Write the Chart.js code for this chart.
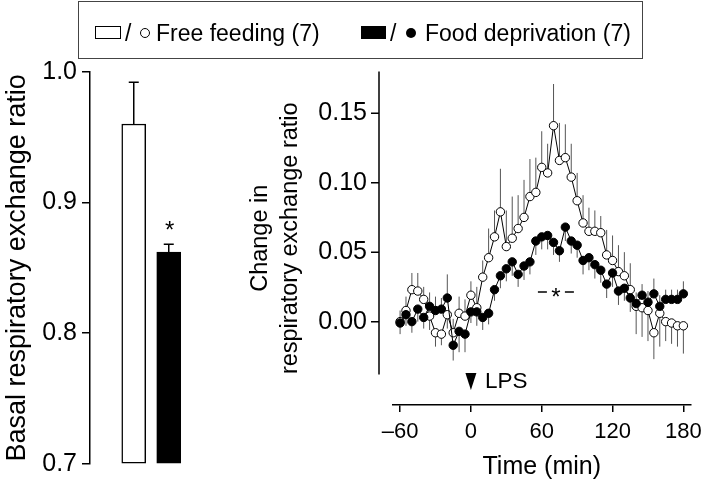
<!DOCTYPE html>
<html>
<head>
<meta charset="utf-8">
<script src="https://cdn.jsdelivr.net/npm/chart.js@4.4.1/dist/chart.umd.min.js"></script>
<style>
  html, body { margin: 0; padding: 0; background: #fff; }
  body { width: 709px; height: 484px; position: relative; overflow: hidden; font-family: "Liberation Sans", Arial, sans-serif; }
  canvas { position: absolute; top: 0; }
  #basal { left: 0; }
  #change { left: 230px; }
  .box { position: absolute; left: 78px; top: 1px; width: 565px; height: 58px; border: 1.5px solid #444; box-sizing: border-box; }
  .ico { position: absolute; box-sizing: border-box; }
  .txt { position: absolute; top: 20px; font-size: 23px; line-height: 26px; white-space: nowrap; color: #000; }
</style>
</head>
<body>
<canvas id="basal" width="200" height="484"></canvas>
<canvas id="change" width="479" height="484"></canvas>

<div class="box"></div>
<div class="ico" style="left:95px;top:26px;width:26px;height:13px;border:1.5px solid #000;"></div>
<div class="txt" style="left:125px;">/</div>
<div class="ico" style="left:140px;top:28px;width:10px;height:10px;border:1.5px solid #000;border-radius:50%;"></div>
<div class="txt" style="left:156px;">Free feeding (7)</div>
<div class="ico" style="left:361px;top:26px;width:25px;height:13px;background:#000;"></div>
<div class="txt" style="left:390px;">/</div>
<div class="ico" style="left:406px;top:28px;width:10px;height:10px;background:#000;border-radius:50%;"></div>
<div class="txt" style="left:425px;">Food deprivation (7)</div>

<script>
// basal RER (bar panel)
const groups = ['Free feeding', 'Food deprivation'];
const basalMean = [0.960, 0.862];
const basalSE = [0.032, 0.006];
const basalSig = ['', '*'];
const basalTicks = [0.7, 0.8, 0.9, 1.0];

// change in RER after LPS (line panel)
const timeMin = [-60, -55, -50, -45, -40, -35, -30, -25, -20, -15, -10, -5, 0, 5, 10, 15, 20, 25, 30, 35,
  40, 45, 50, 55, 60, 65, 70, 75, 80, 85, 90, 95, 100, 105, 110, 115, 120, 125, 130, 135,
  140, 145, 150, 155, 160, 165, 170, 175, 180];
const freeMean = [0.000, 0.008, 0.023, 0.022, 0.016, 0.004, -0.008, -0.009, 0.005, -0.008, 0.006, 0.004, 0.019, 0.010, 0.032, 0.046, 0.061, 0.079, 0.054, 0.060,
  0.067, 0.075, 0.090, 0.093, 0.111, 0.107, 0.141, 0.116, 0.118, 0.104, 0.087, 0.071, 0.065, 0.065, 0.064, 0.048, 0.044, 0.036, 0.033, 0.023,
  0.011, 0.010, 0.008, -0.008, 0.006, 0.000, -0.001, -0.003, -0.003];
const freeSE = [0.008, 0.010, 0.012, 0.013, 0.009, 0.010, 0.010, 0.008, 0.010, 0.010, 0.012, 0.012, 0.010, 0.015, 0.012, 0.021, 0.019, 0.031, 0.026, 0.030,
  0.024, 0.027, 0.027, 0.025, 0.026, 0.021, 0.030, 0.027, 0.024, 0.024, 0.020, 0.020, 0.017, 0.015, 0.012, 0.018, 0.018, 0.019, 0.017, 0.019,
  0.020, 0.021, 0.022, 0.019, 0.024, 0.014, 0.015, 0.015, 0.020];
const fastMean = [-0.001, 0.005, 0.000, 0.009, 0.003, 0.011, 0.008, 0.009, 0.017, -0.017, -0.007, -0.009, 0.007, 0.007, 0.003, 0.006, 0.023, 0.033, 0.038, 0.043,
  0.034, 0.040, 0.043, 0.058, 0.061, 0.062, 0.057, 0.051, 0.068, 0.058, 0.055, 0.044, 0.046, 0.041, 0.037, 0.027, 0.035, 0.022, 0.024, 0.017,
  0.013, 0.019, 0.014, 0.020, 0.011, 0.016, 0.016, 0.016, 0.020];
const fastSE = [0.008, 0.008, 0.008, 0.009, 0.008, 0.010, 0.010, 0.008, 0.017, 0.011, 0.015, 0.013, 0.008, 0.010, 0.009, 0.008, 0.008, 0.009, 0.009, 0.010,
  0.009, 0.010, 0.009, 0.010, 0.009, 0.010, 0.009, 0.008, 0.010, 0.009, 0.009, 0.010, 0.009, 0.010, 0.009, 0.010, 0.010, 0.010, 0.009, 0.010,
  0.008, 0.008, 0.008, 0.011, 0.008, 0.007, 0.007, 0.007, 0.009];
const timeTicks = [-60, 0, 60, 120, 180];
const changeTicks = [0, 0.05, 0.10, 0.15];

const FONT = "'Liberation Sans', Arial, sans-serif";
Chart.defaults.font.family = FONT;
Chart.defaults.color = '#000';

const basalMarks = {
  id: 'basalMarks',
  afterDatasetsDraw(chart) {
    const ctx = chart.ctx;
    const xs = chart.scales.x, ys = chart.scales.y;
    ctx.save();
    ctx.strokeStyle = '#000';
    ctx.lineWidth = 1.5;
    groups.forEach((g, i) => {
      const x = xs.getPixelForValue(i);
      const y0 = ys.getPixelForValue(basalMean[i]);
      const y1 = ys.getPixelForValue(basalMean[i] + basalSE[i]);
      ctx.beginPath();
      ctx.moveTo(x, y0);
      ctx.lineTo(x, y1);
      ctx.moveTo(x - 5, y1);
      ctx.lineTo(x + 5, y1);
      ctx.stroke();
      if (basalSig[i]) {
        ctx.fillStyle = '#000';
        ctx.font = '24px ' + FONT;
        ctx.textAlign = 'center';
        ctx.textBaseline = 'alphabetic';
        ctx.fillText(basalSig[i], x + 1, y1 - 6);
      }
    });
    ctx.restore();
  }
};

new Chart(document.getElementById('basal'), {
  type: 'bar',
  data: {
    datasets: [{
      data: groups.map((g, i) => ({x: i, y: basalMean[i]})),
      backgroundColor: ['#fff', '#000'],
      borderColor: '#000',
      borderWidth: 1.5,
      borderSkipped: false,
      barThickness: 24,
      base: 0.7
    }]
  },
  options: {
    responsive: false,
    animation: false,
    layout: {padding: {top: 71.7, bottom: 7.3, right: 5, left: 0}},
    plugins: {legend: {display: false}, tooltip: {enabled: false}},
    scales: {
      x: {type: 'linear', display: false, offset: false, min: -1.25, max: 1.75},
      y: {
        min: 0.7, max: 1.0,
        afterBuildTicks: s => { s.ticks = basalTicks.map(v => ({value: v})); },
        afterFit: s => { s.width = 90; },
        ticks: {font: {size: 25}, padding: 5, callback: v => v.toFixed(1)},
        grid: {drawOnChartArea: false, tickLength: 8, color: '#000', lineWidth: 1.5},
        border: {color: '#000', width: 1.5},
        title: {display: true, text: 'Basal respiratory exchange ratio', font: {size: 27}, padding: {top: 1, bottom: 0}}
      }
    }
  },
  plugins: [basalMarks]
});

const changeMarks = {
  id: 'changeMarks',
  beforeDatasetsDraw(chart) {
    const ctx = chart.ctx;
    const xs = chart.scales.x, ys = chart.scales.y;
    ctx.save();
    ctx.strokeStyle = '#555';
    ctx.lineWidth = 1;
    ctx.beginPath();
    timeMin.forEach((t, i) => {
      const x = xs.getPixelForValue(t);
      const upFree = freeMean[i] >= fastMean[i];
      const f1 = freeMean[i] + (upFree ? freeSE[i] : -freeSE[i]);
      const d1 = fastMean[i] + (upFree ? -fastSE[i] : fastSE[i]);
      ctx.moveTo(x, ys.getPixelForValue(freeMean[i]));
      ctx.lineTo(x, ys.getPixelForValue(f1));
      ctx.moveTo(x, ys.getPixelForValue(fastMean[i]));
      ctx.lineTo(x, ys.getPixelForValue(d1));
    });
    ctx.stroke();
    ctx.restore();
  },
  afterDraw(chart) {
    const ctx = chart.ctx;
    const xs = chart.scales.x, ys = chart.scales.y;
    const area = chart.chartArea;
    ctx.save();
    // detached y axis
    const ax = area.left - 14;
    ctx.strokeStyle = '#000';
    ctx.lineWidth = 1.5;
    ctx.beginPath();
    ctx.moveTo(ax, area.top);
    ctx.lineTo(ax, ys.getPixelForValue(-0.038));
    changeTicks.forEach(v => {
      const y = ys.getPixelForValue(v);
      ctx.moveTo(ax - 8, y);
      ctx.lineTo(ax, y);
    });
    ctx.stroke();

    // LPS injection marker
    const x0 = xs.getPixelForValue(0);
    const tip = area.bottom - 15;
    ctx.fillStyle = '#000';
    ctx.beginPath();
    ctx.moveTo(x0 - 5.5, tip - 17);
    ctx.lineTo(x0 + 5.5, tip - 17);
    ctx.lineTo(x0, tip);
    ctx.closePath();
    ctx.fill();
    ctx.font = '22.5px ' + FONT;
    ctx.textAlign = 'left';
    ctx.textBaseline = 'middle';
    ctx.fillText('LPS', x0 + 14, tip - 8);

    // significance between groups
    const sx = xs.getPixelForValue(72);
    const sy = ys.getPixelForValue(0.0213);
    ctx.beginPath();
    ctx.moveTo(sx - 18, sy); ctx.lineTo(sx - 9, sy);
    ctx.moveTo(sx + 9, sy); ctx.lineTo(sx + 18, sy);
    ctx.stroke();
    ctx.font = '24px ' + FONT;
    ctx.textAlign = 'center';
    ctx.textBaseline = 'alphabetic';
    ctx.fillText('*', sx, sy + 13);
    ctx.restore();
  }
};

new Chart(document.getElementById('change'), {
  type: 'line',
  data: {
    datasets: [
      {
        label: 'Food deprivation (7)',
        data: timeMin.map((t, i) => ({x: t, y: fastMean[i]})),
        borderColor: '#000', borderWidth: 1,
        pointRadius: 4.2, pointBorderWidth: 1,
        pointBackgroundColor: '#000', pointBorderColor: '#000'
      },
      {
        label: 'Free feeding (7)',
        data: timeMin.map((t, i) => ({x: t, y: freeMean[i]})),
        borderColor: '#000', borderWidth: 1,
        pointRadius: 4.2, pointBorderWidth: 1,
        pointBackgroundColor: '#fff', pointBorderColor: '#000'
      }
    ]
  },
  options: {
    responsive: false,
    animation: false,
    layout: {padding: {top: 71.5, right: 11, left: 0, bottom: 0}},
    plugins: {legend: {display: false}, tooltip: {enabled: false}},
    scales: {
      x: {
        type: 'linear', min: -66, max: 186,
        afterBuildTicks: s => { s.ticks = timeTicks.map(v => ({value: v})); },
        afterFit: s => { s.height = 79; },
        ticks: {font: {size: 22}, padding: 7, maxRotation: 0, autoSkip: false,
          callback: v => v < 0 ? '\u2013' + Math.abs(v) : String(v)},
        grid: {drawOnChartArea: false, tickLength: 7, color: '#000', lineWidth: 1.5},
        border: {color: '#000', width: 1.5},
        title: {display: true, text: 'Time (min)', font: {size: 25}, padding: {top: 0, bottom: 2}}
      },
      y: {
        min: -0.06, max: 0.18,
        afterBuildTicks: s => { s.ticks = changeTicks.map(v => ({value: v})); },
        afterFit: s => { s.width = 163; },
        ticks: {font: {size: 25}, padding: 26, callback: v => v.toFixed(2)},
        grid: {display: false, drawTicks: false},
        border: {display: false},
        title: {display: true, text: ['Change in', 'respiratory exchange ratio'], font: {size: 23.5, lineHeight: 1.28}, padding: {top: 15, bottom: 0}}
      }
    }
  },
  plugins: [changeMarks]
});
</script>
</body>
</html>
